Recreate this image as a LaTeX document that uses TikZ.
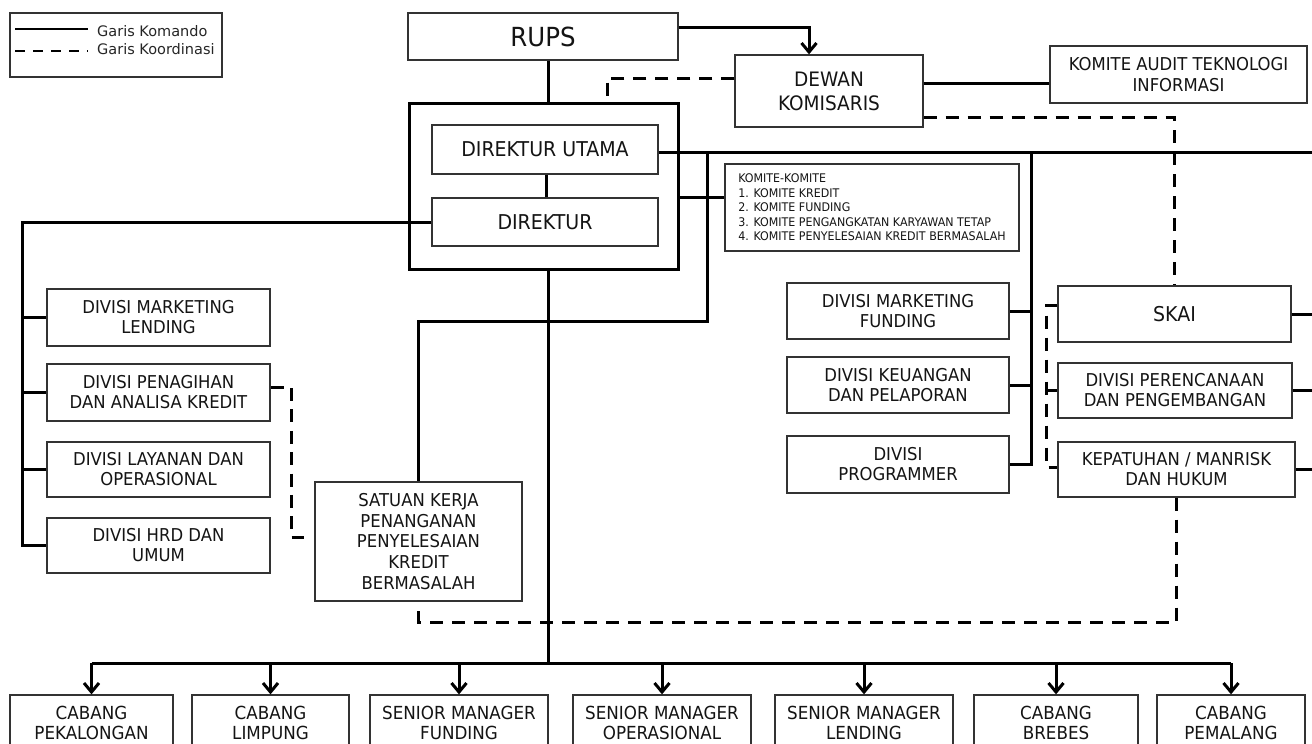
\documentclass[tikz,border=0pt]{standalone}
\usepackage{fontspec}
\setmainfont{DejaVu Sans}[FakeStretch=0.93]
\newfontfamily\legfont{DejaVu Sans}
\usetikzlibrary{arrows.meta,calc}
\newcommand\fsz[2]{\fontsize{#1}{#2}\selectfont}
\newcommand\bx[7][]{\node[box,minimum width={(#5-#3)*1pt},minimum height={(#6-#4)*1pt},#1] (#2) at ({(#3+#5)/2},{(#4+#6)/2}) {#7};}
\begin{document}
\begin{tikzpicture}[x=1pt,y=-1pt,
  box/.style={draw=black!80, line width=1.3pt, inner sep=0pt, align=center, text=black!92, font=\fsz{17.7}{20}},
  cmd/.style={line width=3pt, draw=black},
  coord/.style={line width=3pt, draw=black, dash pattern=on 13pt off 9pt},
  arr/.style={cmd, -{Straight Barb[length=9pt,width=15pt]}},
  legtext/.style={anchor=west, inner sep=0pt, text=black!85, font=\legfont\fsz{14.5}{16}}
]
\useasboundingbox (0,0) rectangle (1312,744);
\fill[white] (0,0) rectangle (1312,744);

% helper coordinates
\coordinate (mx) at (548,0);
\coordinate (dux) at (546,0);
\coordinate (lx) at (22,0);
\coordinate (rx) at (1312,0);
\coordinate (c707) at (707,0);
\coordinate (c1031) at (1031,0);
\coordinate (ax) at (809,0);
\coordinate (ox) at (607,0);
\coordinate (bkx) at (1046,0);
\coordinate (ly) at (0,152);
\coordinate (ky) at (0,197);
\coordinate (ky2) at (0,83);
\coordinate (dwy) at (0,78);
\coordinate (dsy) at (0,117);
\coordinate (sy) at (0,321);
\coordinate (dy) at (0,622);
\coordinate (busy) at (0,663);

% legend
\bx{legend}{10}{13}{222}{77}{}
\coordinate (l1a) at (15,29); \coordinate (l1b) at (88,29);
\coordinate (l2a) at (15,51); \coordinate (l2b) at (88,51);
\draw[line width=2.5pt] (l1a) -- (l1b);
\draw[line width=2.5pt, dash pattern=on 10pt off 8pt] (l2a) -- (l2b);
\node[legtext] (lg1) at (97,31) {Garis Komando};
\node[legtext] (lg2) at (97,49) {Garis Koordinasi};

% top
\bx[font=\fsz{26.3}{30}]{rups}{408}{13}{678}{60}{RUPS}
\bx[font=\fsz{19.9}{24}]{dewan}{735}{55}{923}{127}{DEWAN\\KOMISARIS}
\bx[font=\fsz{17.7}{21}]{kati}{1050}{46}{1307}{103}{KOMITE AUDIT TEKNOLOGI\\INFORMASI}
\bx[draw=black, line width=3pt]{outer}{409}{103}{678}{269}{}
\bx[font=\fsz{20.4}{23}]{dirut}{432}{125}{658}{174}{DIREKTUR UTAMA}
\bx[font=\fsz{20.4}{23}]{dir}{432}{198}{658}{246}{DIREKTUR}
\bx[font=\fsz{11.9}{14.5}, align=left]{komite}{725}{164}{1019}{251}{KOMITE-KOMITE\\1. KOMITE KREDIT\\2. KOMITE FUNDING\\3. KOMITE PENGANGKATAN KARYAWAN TETAP\\4. KOMITE PENYELESAIAN KREDIT BERMASALAH}

% left divisions
\bx{ml}{47}{289}{270}{346}{DIVISI MARKETING\\LENDING}
\bx{pen}{47}{364}{270}{421}{DIVISI PENAGIHAN\\DAN ANALISA KREDIT}
\bx{lay}{47}{442}{270}{497}{DIVISI LAYANAN DAN\\OPERASIONAL}
\bx{hrd}{47}{518}{270}{573}{DIVISI HRD DAN\\UMUM}
\bx[font=\fsz{17.7}{20.7}]{sat}{315}{482}{522}{601}{SATUAN KERJA\\PENANGANAN\\PENYELESAIAN\\KREDIT\\BERMASALAH}

% middle-right divisions
\bx{mf}{787}{283}{1009}{339}{DIVISI MARKETING\\FUNDING}
\bx{keu}{787}{357}{1009}{413}{DIVISI KEUANGAN\\DAN PELAPORAN}
\bx{prog}{787}{436}{1009}{493}{DIVISI\\PROGRAMMER}

% right group
\bx[font=\fsz{20.4}{23}]{skai}{1058}{286}{1291}{342}{SKAI}
\bx{ren}{1058}{363}{1292}{418}{DIVISI PERENCANAAN\\DAN PENGEMBANGAN}
\bx{kep}{1058}{442}{1295}{497}{KEPATUHAN / MANRISK\\DAN HUKUM}

% bottom row
\bx[font=\fsz{18}{20}]{b1}{10}{695}{173}{751}{CABANG\\PEKALONGAN}
\bx[font=\fsz{18}{20}]{b2}{192}{695}{349}{751}{CABANG\\LIMPUNG}
\bx[font=\fsz{18}{20}]{b3}{370}{695}{548}{751}{SENIOR MANAGER\\FUNDING}
\bx[font=\fsz{18}{20}]{b4}{573}{695}{751}{751}{SENIOR MANAGER\\OPERASIONAL}
\bx[font=\fsz{18}{20}]{b5}{775}{695}{953}{751}{SENIOR MANAGER\\LENDING}
\bx[font=\fsz{18}{20}]{b6}{974}{695}{1138}{751}{CABANG\\BREBES}
\bx[font=\fsz{18}{20}]{b7}{1157}{695}{1305}{751}{CABANG\\PEMALANG}

% ---- command lines ----
\draw[cmd] (rups.south -| mx) -- (outer.north -| mx);
\draw[arr] ($(rups.east)+(0,-9.5)$) -| (ax |- dewan.north);
\draw[cmd] (dewan.east |- ky2) -- (kati.west |- ky2);
\draw[cmd] (dirut.south -| dux) -- (dir.north -| dux);
\draw[cmd] (dirut.east |- ly) -- (rx |- ly);
\draw[cmd] (outer.east |- ky) -- (komite.west |- ky);
\draw[cmd] (c707 |- ly) -- (c707 |- sy) -| (sat.north);
% left branch
\draw[cmd] (dir.west) -| (lx |- hrd.west) -- (hrd.west);
\draw[cmd] (lx |- ml.west) -- (ml.west);
\draw[cmd] (lx |- pen.west) -- (pen.west);
\draw[cmd] (lx |- lay.west) -- (lay.west);
% middle-right branch
\draw[cmd] (c1031 |- ly) |- (prog.east);
\draw[cmd] (c1031 |- mf.east) -- (mf.east);
\draw[cmd] (c1031 |- keu.east) -- (keu.east);
% right group
\draw[cmd] (skai.east) -- (rx |- skai.east);
\draw[cmd] (ren.east) -- (rx |- ren.east);
\draw[cmd] (kep.east) -- (rx |- kep.east);
% main vertical and bus
\draw[cmd] (outer.south -| mx) -- (mx |- busy);
\draw[cmd] (b1.north |- busy) -- (b7.north |- busy);
\foreach \b in {b1,b2,b3,b4,b5,b6,b7}
  \draw[arr] (\b.north |- busy) -- (\b.north);

% ---- coordination lines ----
\draw[coord] (dewan.west |- dwy) -| (ox |- outer.north);
\draw[coord] (dewan.east |- dsy) -| (skai.north);
\coordinate (bk1) at (1046,305);
\coordinate (bk3) at (1046,467);
\draw[coord] (skai.west |- bk1) -- (bk1) -- (bk3) -- (kep.west |- bk3);
\draw[coord] (bkx |- ren.west) -- (ren.west);
\draw[coord] (kep.south) -- (kep.south |- dy) -| ($(sat.south)+(0,6)$);
\coordinate (pn1) at (291,387);
\coordinate (pn2) at (291,537);
\coordinate (pnend) at (304,537);
\draw[coord, dash pattern=on 13pt off 8.375pt] (pen.east |- pn1) -- (pn1) -- (pn2) -- (pnend);
\end{tikzpicture}
\end{document}
